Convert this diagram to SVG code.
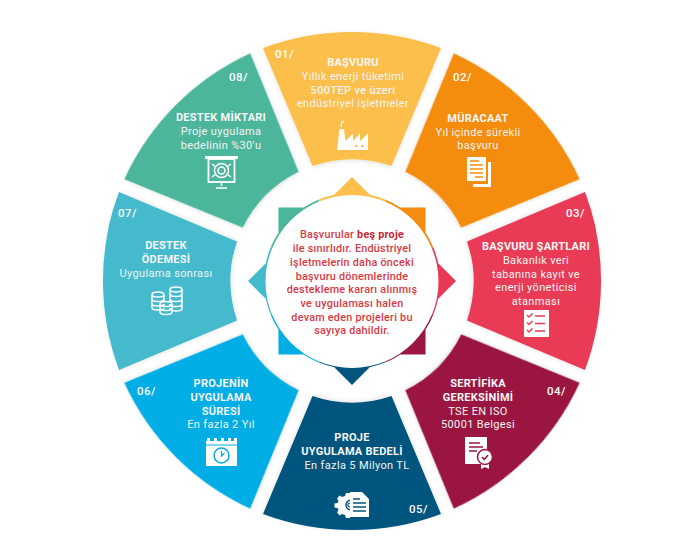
<svg xmlns="http://www.w3.org/2000/svg" xmlns:xlink="http://www.w3.org/1999/xlink" width="677" height="544" viewBox="0 0 677 544">
<style>
text{font-family:"Roboto","Liberation Sans",sans-serif;fill:#fff;text-anchor:middle}
.h{font-size:11px;font-weight:700;letter-spacing:.25px;fill:#f6f6f6}
.b{font-size:11px;font-weight:400;letter-spacing:.35px;fill:#f3f3f3}
.s{font-weight:500}
.n{font-size:11.5px;font-weight:500;letter-spacing:.5px;text-anchor:start}
.c{font-size:10.8px;font-weight:500;letter-spacing:.25px;fill:#d9383f}
.c tspan{font-weight:700;fill:#c8252f}
.w{fill:#fff}
.o{fill:none;stroke:#fff;stroke-width:1.5}
</style>
<defs>
<filter id="sh" x="-10%" y="-10%" width="120%" height="120%"><feDropShadow dx="0" dy="1" stdDeviation="2" flood-color="#000" flood-opacity=".12"/></filter>
<path id="seg" d="M-89,-233 A255,255 0 0 1 89,-233 L39.5,-115 A121.6,121.6 0 0 0 -39.5,-115 Z"/>
<path id="tip" d="M0,0 L-33.7,-81.3 A88,88 0 0 1 33.7,-81.3 Z M-20,-84 L0,-104 L20,-84 Z"/>
</defs>
<rect width="677" height="544" fill="#fff"/>

<g id="node-01">
<use href="#seg" transform="translate(352 281)" fill="#fdbf4b" filter="url(#sh)"/>
<text class="n" x="275" y="58">01/</text>
<text class="h" x="353" y="66">BAŞVURU</text>
<text class="b" x="353" y="80">Yıllık enerji tüketimi</text>
<text class="b s" x="353" y="94">500TEP ve üzeri</text>
<text class="b" x="353" y="107">endüstriyel işletmeler</text>
<path class="w" d="M337,150 L339.5,129 L344,129 L345.5,141 L353,133.500 L353,141 L360,133.500 L360,141 L368,133.500 L368,150 Z"/>
<path d="M341.500,127 q-1.500,-4 2.500,-6" fill="none" stroke="#fff" stroke-width="1.200"/>
<path d="M355,145h2.500v2h-2.500zM361,145h2.500v2h-2.500z" fill="#fdbf4b"/>
</g>

<g id="node-02">
<use href="#seg" transform="translate(352 281) rotate(45)" fill="#f48c10" filter="url(#sh)"/>
<text class="n" x="453" y="81">02/</text>
<text class="h" x="478" y="122">MÜRACAAT</text>
<text class="b" x="478" y="136">Yıl içinde sürekli</text>
<text class="b" x="478" y="149">başvuru</text>
<path class="w" d="M488,162 h3 v25 h-18 v-3 h15 z"/>
<rect class="w" x="467" y="157" width="19" height="24"/>
<path d="M470,161h9M470,165h13M470,169h13M470,173h13M475,177h8" stroke="#f48c10" stroke-width="1.300" fill="none"/>
</g>

<g id="node-03">
<use href="#seg" transform="translate(352 281) rotate(90)" fill="#e93a55" filter="url(#sh)"/>
<text class="n" x="566" y="217">03/</text>
<text class="h" x="536" y="250">BAŞVURU ŞARTLARI</text>
<text class="b" x="536" y="264">Bakanlık veri</text>
<text class="b" x="536" y="278">tabanına kayıt ve</text>
<text class="b" x="536" y="291">enerji yöneticisi</text>
<text class="b" x="536" y="305">atanması</text>
<rect class="w" x="524" y="310" width="25" height="27"/>
<path d="M527,315l2,2l3.500,-3.500M527,322.500l2,2l3.500,-3.500M527,330l2,2l3.500,-3.500M535,316h10M535,323.500h10M535,331h10" stroke="#e93a55" stroke-width="1.500" fill="none"/>
</g>

<g id="node-04">
<use href="#seg" transform="translate(352 281) rotate(135)" fill="#9a1741" filter="url(#sh)"/>
<text class="n" x="547" y="395">04/</text>
<text class="h" x="478" y="387">SERTİFİKA</text>
<text class="h" x="478" y="401">GEREKSİNİMİ</text>
<text class="b" x="478" y="415">TSE EN ISO</text>
<text class="b" x="478" y="428">50001 Belgesi</text>
<rect class="w" x="465" y="437" width="22" height="27" rx="1"/>
<path d="M469,443h11M469,447h14M469,451h8" stroke="#9a1741" stroke-width="1.500" fill="none"/>
<path class="w" d="M481,462 v7 l4,-2 l4,2 v-7 z"/>
<circle class="w" cx="485" cy="457" r="7.500" stroke="#9a1741" stroke-width="1.500"/>
<path d="M482,457l2.300,2.300l3.700,-4" stroke="#9a1741" stroke-width="1.600" fill="none"/>
</g>

<g id="node-05">
<use href="#seg" transform="translate(352 281) rotate(180)" fill="#04547f" filter="url(#sh)"/>
<text class="n" x="409" y="513">05/</text>
<text class="h" x="352" y="441">PROJE</text>
<text class="h" x="352" y="455">UYGULAMA BEDELİ</text>
<text class="b" x="357" y="469">En fazla 5 Milyon TL</text>
<path class="w" d="M350,493 l-4,0 l-1,3 l-3,1 l-2.500,-1.500 l-2.500,3 l1.500,2.500 l-1,2 l-3,.5 v4 l3,.5 l1,2 l-1.500,2.500 l2.500,3 l2.500,-1.500 l3,1 l1,3 h4 z"/>
<path d="M351,500 a5,5 0 1 0 0,10" fill="none" stroke="#04547f" stroke-width="1.500"/>
<path d="M351,503 a2.200,2.200 0 1 0 0,4" fill="none" stroke="#04547f" stroke-width="1.200"/>
<path class="w" d="M350,492 h12 l7,7 v18 h-19 z"/>
<path d="M353,499h7M353,503h13M353,507h13M353,511h13" stroke="#04547f" stroke-width="1.300" fill="none"/>
</g>

<g id="node-06">
<use href="#seg" transform="translate(352 281) rotate(225)" fill="#00ade4" filter="url(#sh)"/>
<text class="n" x="137" y="395">06/</text>
<text class="h" x="221" y="387">PROJENİN</text>
<text class="h" x="221" y="401">UYGULAMA</text>
<text class="h" x="221" y="415">SÜRESİ</text>
<text class="b" x="221" y="428">En fazla 2 Yıl</text>
<rect class="w" x="206" y="443" width="31" height="23"/>
<path class="w" d="M207,438h3v5h-3zM214,438h3v5h-3zM221,438h3v5h-3zM228,438h3v5h-3zM234,438h3v5h-3z"/>
<rect class="w" x="206" y="441" width="31" height="2"/>
<path d="M206,445h31" stroke="#00ade4" stroke-width="1"/>
<circle cx="221.500" cy="455.500" r="7.500" fill="none" stroke="#00ade4" stroke-width="1.500"/>
<path d="M221.500,451v5l3,-3" fill="none" stroke="#00ade4" stroke-width="1.300"/>
</g>

<g id="node-07">
<use href="#seg" transform="translate(352 281) rotate(270)" fill="#44bacd" filter="url(#sh)"/>
<text class="n" x="118" y="217">07/</text>
<text class="h" x="166" y="249">DESTEK</text>
<text class="h" x="166" y="263">ÖDEMESİ</text>
<text class="b" x="166" y="277">Uygulama sonrası</text>
<path class="o" d="M152,294.500 a6,2.500 0 0 1 12,0 v13 a6,2.500 0 0 1 -12,0 z M152,294.500 a6,2.500 0 0 0 12,0 M152,299 a6,2.500 0 0 0 12,0 M152,303.500 a6,2.500 0 0 0 12,0"/>
<path class="o" d="M170,289.500 a6,2.500 0 0 1 12,0 v19 a6,2.500 0 0 1 -12,0 z M170,289.500 a6,2.500 0 0 0 12,0 M170,294 a6,2.500 0 0 0 12,0 M170,299 a6,2.500 0 0 0 12,0 M170,304 a6,2.500 0 0 0 12,0"/>
<path d="M160,304 a6,2.500 0 0 1 12,0 v8 a6,2.500 0 0 1 -12,0 z M160,304 a6,2.500 0 0 0 12,0 M160,308 a6,2.500 0 0 0 12,0" fill="#44bacd" stroke="#fff" stroke-width="1.500"/>
</g>

<g id="node-08">
<use href="#seg" transform="translate(352 281) rotate(315)" fill="#4cb69c" filter="url(#sh)"/>
<text class="n" x="229" y="81">08/</text>
<text class="h" x="221" y="121">DESTEK MİKTARI</text>
<text class="b" x="221" y="135">Proje uygulama</text>
<text class="b" x="221" y="149">bedelinin %30'u</text>
<rect class="w" x="205" y="156" width="33" height="3"/>
<rect x="208.500" y="159" width="26" height="23" fill="none" stroke="#fff" stroke-width="1.800"/>
<path d="M221.500,182v4M216,188h11" stroke="#fff" stroke-width="1.500" fill="none"/>
<circle class="o" cx="221.500" cy="170.500" r="7"/>
<circle class="o" cx="221.500" cy="170.500" r="3.500"/>
<path class="o" d="M212,164l4,3M231,164l-4,3M212,177l4,-3M231,177l-4,-3"/>
</g>

<g id="node-center">
<use href="#tip" transform="translate(352 281)" fill="#fdbf4b"/>
<use href="#tip" transform="translate(352 281) rotate(45)" fill="#f48c10"/>
<use href="#tip" transform="translate(352 281) rotate(90)" fill="#e93a55"/>
<use href="#tip" transform="translate(352 281) rotate(135)" fill="#9a1741"/>
<use href="#tip" transform="translate(352 281) rotate(180)" fill="#04547f"/>
<use href="#tip" transform="translate(352 281) rotate(225)" fill="#00ade4"/>
<use href="#tip" transform="translate(352 281) rotate(270)" fill="#44bacd"/>
<use href="#tip" transform="translate(352 281) rotate(315)" fill="#4cb69c"/>
<circle cx="352" cy="281.500" r="86.500" fill="#fff"/>
<text class="c" x="352" y="238">Başvurular <tspan>beş proje</tspan></text>
<text class="c" x="352" y="252">ile sınırlıdır. Endüstriyel</text>
<text class="c" x="352" y="266">işletmelerin daha önceki</text>
<text class="c" x="352" y="279.500">başvuru dönemlerinde</text>
<text class="c" x="352" y="293">destekleme kararı alınmış</text>
<text class="c" x="352" y="307">ve uygulaması halen</text>
<text class="c" x="352" y="320.500">devam eden projeleri bu</text>
<text class="c" x="352" y="334">sayıya dahildir.</text>
</g>
</svg>
